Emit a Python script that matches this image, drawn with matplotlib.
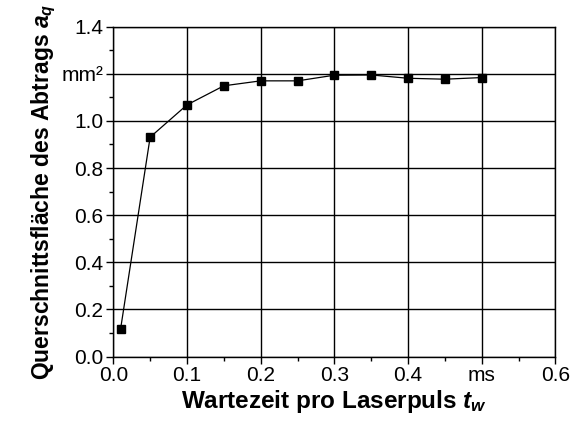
import matplotlib
matplotlib.use("Agg")
import matplotlib.pyplot as plt
from matplotlib.ticker import MultipleLocator

plt.rcParams['font.family'] = ['Liberation Sans', 'DejaVu Sans']
plt.rcParams['mathtext.fontset'] = 'custom'
plt.rcParams['mathtext.it'] = 'Liberation Sans:italic:bold'

# Wartezeit in ms, Querschnittsfläche in mm²
wartezeit = [0.01, 0.05, 0.10, 0.15, 0.20, 0.25, 0.30, 0.35, 0.40, 0.45, 0.50]
flaeche = [0.119, 0.931, 1.068, 1.149, 1.170, 1.170, 1.194, 1.195, 1.181, 1.177, 1.184]

x_ticks = [0.0, 0.1, 0.2, 0.3, 0.4, 0.5, 0.6]
x_labels = ['0.0', '0.1', '0.2', '0.3', '0.4', 'ms', '0.6']
y_ticks = [0.0, 0.2, 0.4, 0.6, 0.8, 1.0, 1.2, 1.4]
y_labels = ['0.0', '0.2', '0.4', '0.6', '0.8', '1.0', 'mm²', '1.4']

fig, ax = plt.subplots(figsize=(5.78, 4.23), dpi=100)
fig.subplots_adjust(left=0.196, right=0.961, top=0.937, bottom=0.157)

ax.plot(wartezeit, flaeche, color='black', lw=0.9, marker='s', ms=5.5,
        markerfacecolor='black', markeredgecolor='black', zorder=3)

ax.set_xlim(0, 0.6)
ax.set_ylim(0, 1.4)
ax.set_xticks(x_ticks)
ax.set_xticklabels(x_labels)
ax.set_yticks(y_ticks)
ax.set_yticklabels(y_labels)
ax.xaxis.set_minor_locator(MultipleLocator(0.05))
ax.yaxis.set_minor_locator(MultipleLocator(0.1))
ax.tick_params(which='major', direction='out', length=5, width=1, labelsize=15, pad=2)
ax.tick_params(which='minor', direction='out', length=3, width=1)
ax.grid(True, which='major', color='black', lw=1)
for s in ax.spines.values():
    s.set_linewidth(1)

ax.set_xlabel('Wartezeit pro Laserpuls $t_w$', fontsize=17.5, fontweight='bold', labelpad=2)
ax.set_ylabel('Querschnittsfläche des Abtrags $a_q$', fontsize=16.5,
              fontweight='bold', labelpad=3)

fig.savefig('out.png', dpi=100)
